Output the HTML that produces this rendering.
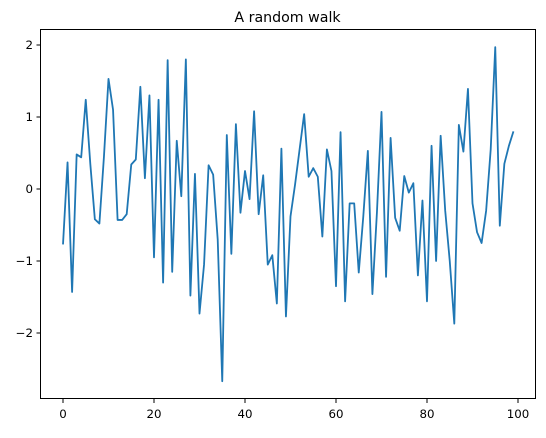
<!DOCTYPE html>
<html><head><meta charset="utf-8"><style>
body{margin:0;background:#fff;}
svg text{font-family:"DejaVu Sans","Liberation Sans",sans-serif;fill:#000;}
</style></head><body>
<svg width="546" height="433" viewBox="0 0 546 433">
<rect x="0" y="0" width="546" height="433" fill="#fff"/>
<text x="287.5" y="22" font-size="14.2" text-anchor="middle">A random walk</text>
<g id="ticks"></g>
<polyline id="line" fill="none" stroke="#1f77b4" stroke-width="1.8" stroke-linejoin="round"/>
<rect x="40.5" y="29.5" width="495" height="369" fill="none" stroke="#000" stroke-width="1"/>
</svg>
<script>
const values = [-0.77,0.37,-1.43,0.48,0.44,1.24,0.35,-0.42,-0.48,0.45,1.53,1.10,-0.43,-0.43,-0.35,0.34,0.41,1.42,0.15,1.30,-0.95,1.24,-1.30,1.79,-1.15,0.67,-0.10,1.80,-1.48,0.21,-1.73,-1.05,0.33,0.20,-0.70,-2.67,0.75,-0.90,0.90,-0.33,0.25,-0.14,1.08,-0.35,0.19,-1.05,-0.92,-1.59,0.56,-1.77,-0.38,0.06,0.55,1.04,0.17,0.29,0.17,-0.66,0.55,0.25,-1.35,0.79,-1.56,-0.20,-0.20,-1.16,-0.38,0.53,-1.46,-0.32,1.07,-1.22,0.71,-0.40,-0.58,0.18,-0.05,0.08,-1.20,-0.16,-1.56,0.60,-1.00,0.74,-0.30,-1.00,-1.87,0.89,0.52,1.39,-0.20,-0.60,-0.75,-0.30,0.55,1.97,-0.51,0.35,0.60,0.80];
const xTicks = [0,20,40,60,80,100];
const yTicks = [-2,-1,0,1,2];
const xScale = v => 63 + v*4.55;
const yScale = v => 189 - v*72;
const NS = "http://www.w3.org/2000/svg";
document.getElementById('line').setAttribute('points', values.map((v,i)=>xScale(i).toFixed(2)+','+yScale(v).toFixed(2)).join(' '));
const g = document.getElementById('ticks');
xTicks.forEach(t=>{
  const x = xScale(t);
  const l = document.createElementNS(NS,'line');
  l.setAttribute('x1',x);l.setAttribute('x2',x);l.setAttribute('y1',399);l.setAttribute('y2',403);l.setAttribute('stroke','#000');
  
  
  g.appendChild(l);
  const tx = document.createElementNS(NS,'text');
  tx.setAttribute('x',x);tx.setAttribute('y',418);tx.setAttribute('font-size','11.8');tx.setAttribute('text-anchor','middle');
  tx.textContent = t;
  
  
  g.appendChild(tx);
});
yTicks.forEach(t=>{
  const y = yScale(t);
  const l = document.createElementNS(NS,'line');
  l.setAttribute('x1',36.5);l.setAttribute('x2',40.5);l.setAttribute('y1',y);l.setAttribute('y2',y);l.setAttribute('stroke','#000');
  
  
  g.appendChild(l);
  const tx = document.createElementNS(NS,'text');
  tx.setAttribute('x',33);tx.setAttribute('y',y+4.2);tx.setAttribute('font-size','11.8');tx.setAttribute('text-anchor','end');
  tx.textContent = t<0 ? '\u2212'+Math.abs(t) : t;
  
  
  g.appendChild(tx);
});
</script>
</body></html>
